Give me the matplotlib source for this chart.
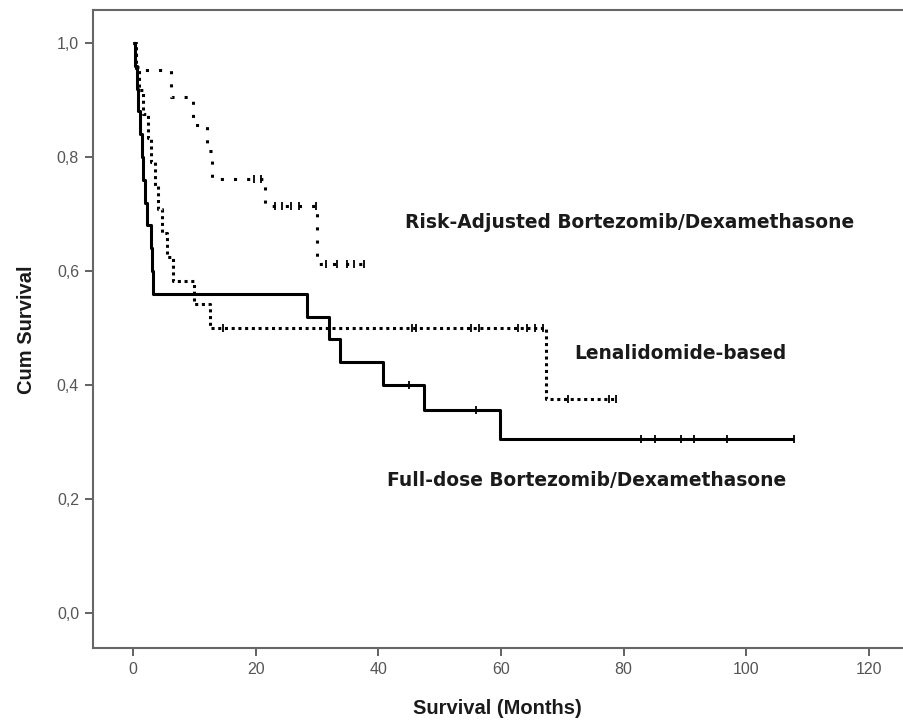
import numpy as np
import matplotlib
matplotlib.use("Agg")
import matplotlib.pyplot as plt

# Kaplan-Meier curves (months, cumulative survival)
full_t = [0, 0.3, 0.6, 0.9, 1.2, 1.5, 1.7, 2.0, 2.3, 3.0, 3.1, 3.3, 28.4, 32.0, 33.8, 40.8, 47.4, 59.8]
full_s = [1.0, 0.96, 0.92, 0.88, 0.84, 0.80, 0.76, 0.72, 0.68, 0.64, 0.60, 0.56, 0.52, 0.48, 0.44, 0.40, 0.356, 0.305]
full_end = 107.8
full_cens = [45.0, 55.9, 82.8, 85.1, 89.4, 91.5, 96.9, 107.8]

risk_t = [0, 0.5, 6.2, 9.8, 12.1, 12.9, 21.6, 30.0]
risk_s = [1.0, 0.952, 0.905, 0.857, 0.810, 0.762, 0.714, 0.612]
risk_end = 37.6
risk_cens = [19.8, 20.9, 23.2, 24.3, 25.7, 27.0, 29.8, 31.5, 33.3, 34.9, 36.1, 37.6]

lena_t = [0, 0.5, 1.0, 1.6, 2.4, 3.0, 3.6, 4.0, 4.8, 5.5, 6.6, 10.0, 12.5, 67.3]
lena_s = [1.0, 0.958, 0.917, 0.875, 0.833, 0.792, 0.750, 0.708, 0.667, 0.625, 0.583, 0.542, 0.500, 0.375]
lena_end = 78.8
lena_cens = [14.7, 45.5, 46.2, 55.1, 56.5, 62.8, 64.2, 65.6, 66.9, 70.9, 77.6, 78.8]

labels = ["Risk-Adjusted Bortezomib/Dexamethasone", "Lenalidomide-based",
          "Full-dose Bortezomib/Dexamethasone"]
label_x = [44.4, 71.9, 41.5]
label_y = [0.686, 0.456, 0.233]

xticks = [0, 20, 40, 60, 80, 100, 120]
yticks = [0.0, 0.2, 0.4, 0.6, 0.8, 1.0]


def draw_km(ax, t, s, t_end, cens, dashes):
    tt = list(t) + [t_end]
    ss = list(s) + [s[-1]]
    line, = ax.step(tt, ss, where="post", color="black", lw=2.2,
                    solid_capstyle="butt", dash_capstyle="butt")
    if dashes is not None:
        line.set_dashes(dashes)
    idx = np.searchsorted(t, cens, side="right") - 1
    ax.plot(cens, np.array(s)[idx], ls="none", marker="|", ms=6,
            mew=1.3, color="black")


fig = plt.figure(figsize=(9.04, 7.24), dpi=100)
ax = fig.add_axes([93 / 904, 76 / 724, 812 / 904, 638 / 724])

draw_km(ax, full_t, full_s, full_end, full_cens, None)
draw_km(ax, risk_t, risk_s, risk_end, risk_cens, (1.0, 3.3))
draw_km(ax, lena_t, lena_s, lena_end, lena_cens, (1.0, 1.2))

for txt, x, y in zip(labels, label_x, label_y):
    ax.text(x, y, txt, ha="left", va="center", fontsize=13.4,
            fontweight="bold", family="DejaVu Sans", color="#1a1a1a")

ax.set_xlim(-6.52, 125.9)
ax.set_ylim(-0.0614, 1.058)
ax.set_xticks(xticks)
ax.set_yticks(yticks)
ax.set_yticklabels([f"{v:.1f}".replace(".", ",") for v in yticks])

for lab in ax.get_xticklabels() + ax.get_yticklabels():
    lab.set_fontfamily(["Liberation Sans Narrow", "Liberation Sans"])
    lab.set_fontsize(11.5)
    lab.set_color("#555555")

ax.tick_params(direction="out", length=6, width=1.3, color="#555555", pad=4)
for side in ["left", "bottom", "top"]:
    ax.spines[side].set_color("#666666")
    ax.spines[side].set_linewidth(1.5)
ax.spines["right"].set_visible(False)

ax.set_xlabel("Survival (Months)", fontsize=14.5, fontweight="bold",
              family=["Liberation Sans Narrow", "Liberation Sans"], color="#1a1a1a")
ax.set_ylabel("Cum Survival", fontsize=14.5, fontweight="bold",
              family=["Liberation Sans Narrow", "Liberation Sans"], color="#1a1a1a")
ax.xaxis.set_label_coords((497 - 93) / 812, -(699 - 648) / 638)
ax.yaxis.set_label_coords(-(93 - 36) / 812, (648 - 330) / 638)

fig.savefig("out.png", dpi=100)
